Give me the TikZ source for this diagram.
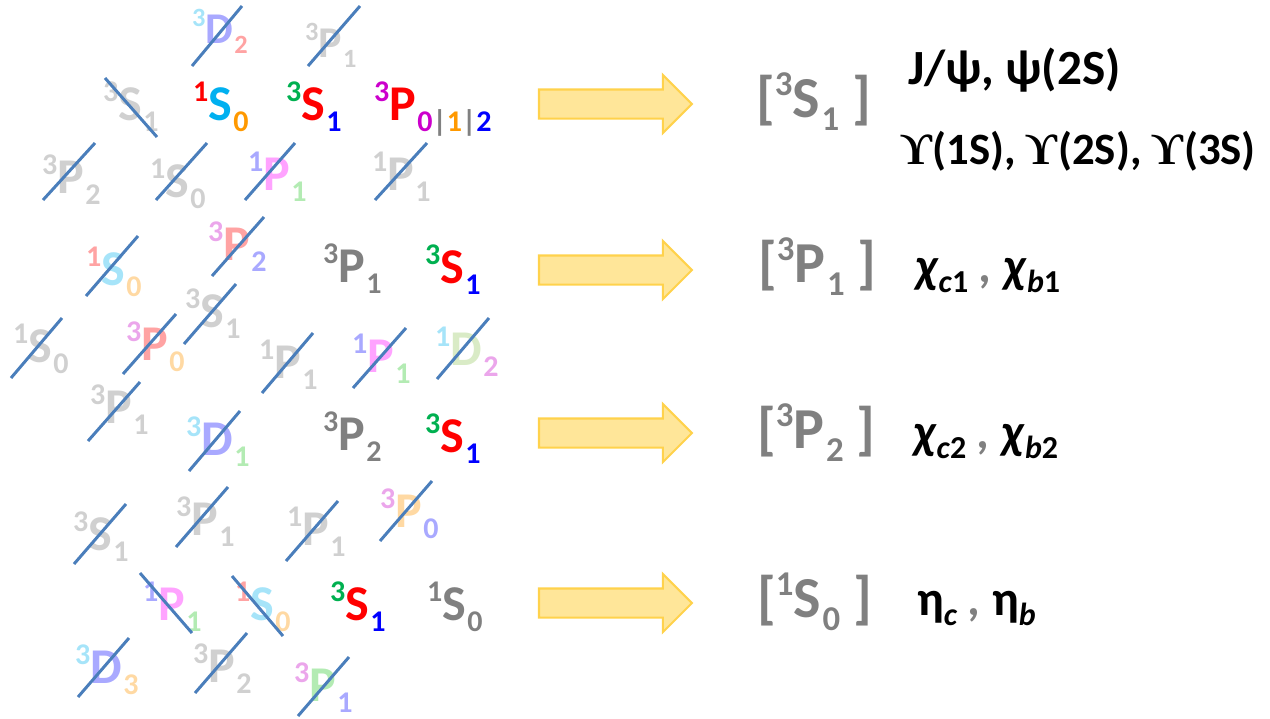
\documentclass[tikz,border=0pt]{standalone}
\usepackage{fontspec}
\usepackage{graphicx}
\usetikzlibrary{shapes.arrows}
\setmainfont{Carlito}
\newfontfamily\upsfont{Liberation Serif}

\definecolor{fgray}{HTML}{D0D0D0}
\definecolor{mgray}{HTML}{808080}
\definecolor{tred}{HTML}{FF0000}
\definecolor{tgreen}{HTML}{00B050}
\definecolor{tblue}{HTML}{0000FF}
\definecolor{tcyan}{HTML}{00B0F0}
\definecolor{torange}{HTML}{FF9900}
\definecolor{tmagenta}{HTML}{CC00CC}
\definecolor{lcyan}{HTML}{A6E4F9}
\definecolor{lviolet}{HTML}{A9A9FF}
\definecolor{lsalmon}{HTML}{FFA3A3}
\definecolor{lpink}{HTML}{FFA3FF}
\definecolor{lgreen}{HTML}{B3EBB3}
\definecolor{lorchid}{HTML}{EBA6EB}
\definecolor{lorange}{HTML}{FFD9A3}
\definecolor{lolive}{HTML}{D9EBC6}
\definecolor{strk}{HTML}{4A7EBB}
\definecolor{arrfill}{HTML}{FFE699}
\definecolor{arrline}{HTML}{FFD24C}

% term symbol: sup, letter, sub, each with its own colour
\newcommand{\term}[6]{%
  \textcolor{#1}{\raisebox{0.37em}{\scalebox{0.6}{#2}}}%
  \textcolor{#3}{#4}%
  \kern0.03em\textcolor{#5}{\raisebox{-0.23em}{\scalebox{0.6}{#6}}}}
\newcommand{\mono}[4]{\term{#1}{#2}{#1}{#3}{#1}{#4}}
\newcommand{\had}[2]{#1\raisebox{-0.22em}{\scalebox{0.65}{#2}}}
\newcommand{\gcomma}{{\color{mgray}\textit{,}}}
\newcommand{\ups}{{\upsfont ϒ}}

\begin{document}
\begin{tikzpicture}[x=0.02cm, y=-0.02cm,
    every node/.style = {inner sep=0pt, outer sep=0pt, anchor=base west,
        font=\fontsize{28.5}{32}\selectfont\bfseries},
    smallterm/.style = {font=\fontsize{25}{30}\selectfont\bfseries},
    strike/.style = {draw=strk, line width=1.7pt},
    blockarrow/.style = {single arrow, draw=arrline, fill=arrfill, line width=1.2pt,
        inner xsep=0pt, inner ysep=0.27cm, minimum height=3.06cm,
        single arrow head extend=0.29cm, single arrow head indent=0pt, anchor=tail},
    statelbl/.style = {text=mgray, font=\fontsize{33}{38}\selectfont\bfseries},
    hadron/.style = {font=\fontsize{28}{32}\selectfont\bfseries},
    upsline/.style = {font=\fontsize{25.5}{30}\selectfont\bfseries}]

            \useasboundingbox (0,0) rectangle (1270,718);

            % top rows
            \node[smallterm] (d2a) at (192,43) {\term{lcyan}{3}{lviolet}{D}{lsalmon}{2}};
            \node[smallterm] (p1a) at (305,57) {\mono{fgray}{3}{P}{1}};
            \node (s1a) at (103,120) {\mono{fgray}{3}{S}{1}};
            \node (s0top) at (193,120) {\term{tred}{1}{tcyan}{S}{torange}{0}};
            \node (s1top) at (286,120) {\term{tgreen}{3}{tred}{S}{tblue}{1}};
            \node (ptop) at (374,120) {\term{tmagenta}{3}{tred}{P}{tmagenta}{0\textcolor{mgray}{|}\textcolor{torange}{1}\textcolor{mgray}{|}\textcolor{tblue}{2}}};
            \node (p2a) at (42,193) {\mono{fgray}{3}{P}{2}};
            \node (s0a) at (150,197) {\mono{fgray}{1}{S}{0}};
            \node (p1b) at (248,190) {\term{lviolet}{1}{lpink}{P}{lgreen}{1}};
            \node (p1c) at (372,190) {\mono{fgray}{1}{P}{1}};

            \node (s0b) at (86,285) {\term{lsalmon}{1}{lcyan}{S}{lorange}{0}};
            \node (p2b) at (208,260) {\term{lorchid}{3}{lsalmon}{P}{lviolet}{2}};
            \node (p1mid) at (323,282) {\mono{mgray}{3}{P}{1}};
            \node (s1mid) at (425,283) {\term{tgreen}{3}{tred}{S}{tblue}{1}};
            \node (s1b) at (185,327) {\mono{fgray}{3}{S}{1}};
            \node (s0c) at (13,362) {\mono{fgray}{1}{S}{0}};
            \node (p0a) at (126,360) {\term{lorchid}{3}{lsalmon}{P}{lorange}{0}};
            \node (p1d) at (259,378) {\mono{fgray}{1}{P}{1}};
            \node (p1e) at (352,372) {\term{lviolet}{1}{lpink}{P}{lgreen}{1}};
            \node (d2b) at (435,365) {\term{lcyan}{1}{lolive}{D}{lorchid}{2}};

            % lower rows
            \node (p1f) at (90,423) {\mono{fgray}{3}{P}{1}};
            \node (d1a) at (186,455) {\term{lcyan}{3}{lviolet}{D}{lgreen}{1}};
            \node (p2mid) at (323,450) {\mono{mgray}{3}{P}{2}};
            \node (s1low) at (425,452) {\term{tgreen}{3}{tred}{S}{tblue}{1}};
            \node (p0b) at (380,527) {\term{lorchid}{3}{lorange}{P}{lviolet}{0}};
            \node (s1c) at (73,550) {\mono{fgray}{3}{S}{1}};
            \node (p1g) at (176,535) {\mono{fgray}{3}{P}{1}};
            \node (p1h) at (287,545) {\mono{fgray}{1}{P}{1}};

            \node (p1i) at (143,620) {\term{lviolet}{1}{lpink}{P}{lgreen}{1}};
            \node (s0d) at (235,620) {\term{lsalmon}{1}{lcyan}{S}{lorange}{0}};
            \node (s1bot) at (330,620) {\term{tgreen}{3}{tred}{S}{tblue}{1}};
            \node (s0bot) at (427,620) {\mono{mgray}{1}{S}{0}};
            \node (d3a) at (75,683) {\term{lcyan}{3}{lviolet}{D}{lorange}{3}};
            \node (p2c) at (193,682) {\mono{fgray}{3}{P}{2}};
            \node (p1j) at (294,701) {\term{lorchid}{3}{lgreen}{P}{lviolet}{1}};

            % struck-out states
            \draw[strike] (192,66) -- (242,6);
            \draw[strike] (308,66) -- (360,6);
            \draw[strike] (105,78) -- (157,137);
            \draw[strike] (43,200) -- (95,143);
            \draw[strike] (156,200) -- (207,143);
            \draw[strike] (245,200) -- (295,143);
            \draw[strike] (375,200) -- (427,143);
            \draw[strike] (86,296) -- (138,236);
            \draw[strike] (212,276) -- (264,217);
            \draw[strike] (184,344) -- (236,284);
            \draw[strike] (11,378) -- (62,318);
            \draw[strike] (123,374) -- (176,314);
            \draw[strike] (262,393) -- (313,333);
            \draw[strike] (353,388) -- (406,328);
            \draw[strike] (437,379) -- (489,318);
            \draw[strike] (88,441) -- (140,382);
            \draw[strike] (189,471) -- (240,411);
            \draw[strike] (380,541) -- (432,481);
            \draw[strike] (74,564) -- (126,504);
            \draw[strike] (176,547) -- (228,487);
            \draw[strike] (286,561) -- (338,501);
            \draw[strike] (140,573) -- (192,633);
            \draw[strike] (232,576) -- (283,636);
            \draw[strike] (78,697) -- (129,638);
            \draw[strike] (195,693) -- (247,633);
            \draw[strike] (298,716) -- (349,657);

            % block arrows
            \node[blockarrow] (arr1) at (539,104) {};
            \node[blockarrow] (arr2) at (539,270) {};
            \node[blockarrow] (arr3) at (539,433) {};
            \node[blockarrow] (arr4) at (539,603) {};

            % selected states and hadrons
            \node[statelbl] (st1) at (756,117) {[\mono{mgray}{3}{S}{1} ]};
            \node[statelbl] (st2) at (758,282) {[\mono{mgray}{3}{P}{1} ]};
            \node[statelbl] (st3) at (757,448) {[\mono{mgray}{3}{P}{2} ]};
            \node[statelbl] (st4) at (757,617) {[\mono{mgray}{1}{S}{0} ]};

            \node[hadron] (h1) at (908,84) {J/ψ, ψ(2S)};
            \node[upsline] (h2) at (900,164) {\ups(1S), \ups(2S), \ups(3S)};
            \node[hadron] (h3) at (915,282) {\had{\textit{χ}}{\textit{c}1} \gcomma\ \had{\textit{χ}}{\textit{b}1}};
            \node[hadron] (h4) at (913,448) {\had{\textit{χ}}{\textit{c}2} \gcomma\ \had{\textit{χ}}{\textit{b}2}};
            \node[hadron] (h5) at (917,615) {\had{η}{\textit{c}} \gcomma\ \had{η}{\textit{b}}};

        \end{tikzpicture}
\end{document}
